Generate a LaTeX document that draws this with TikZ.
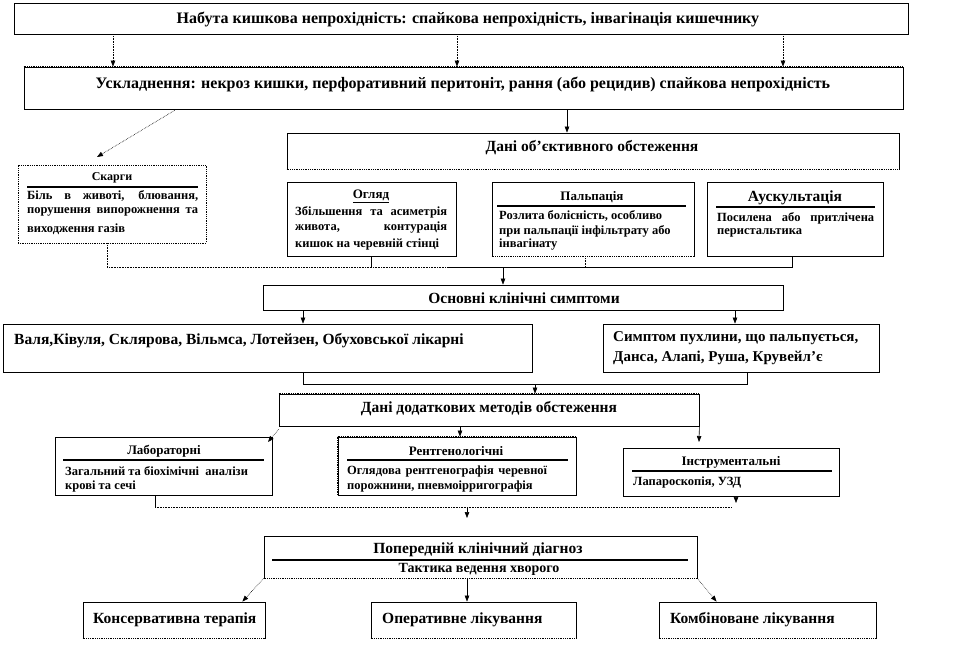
\documentclass[tikz,border=0pt]{standalone}
\usepackage{fontspec}
\setmainfont{Liberation Serif}
\usetikzlibrary{arrows.meta,fit,calc}
\newcommand\jline[2]{\makebox[#1][s]{#2}}
\newcommand\dotedge[2]{\draw[white,line width=1.4pt] #1 -- #2; \draw[line width=0.8pt, densely dotted] #1 -- #2;}
\tikzset{
 box/.style={draw, line width=0.8pt, fill=white, inner sep=0pt},
 dbox/.style={draw, densely dotted, line width=0.8pt, fill=white, inner sep=0pt},
 con/.style={line width=0.6pt},
 dcon/.style={line width=0.6pt, densely dotted},
 arr/.style={-{Triangle[length=6pt,width=4.5pt]}},
 huge/.style={font=\fontsize{16}{18}\selectfont\bfseries, inner sep=0pt},
 big/.style={font=\fontsize{15.5}{18}\selectfont\bfseries, inner sep=0pt},
 bigw/.style={big, anchor=west},
 small/.style={font=\fontsize{12.5}{15}\selectfont\bfseries, inner sep=0pt, anchor=west},
 ttl/.style={font=\fontsize{13}{15}\selectfont\bfseries, inner sep=0pt},
 rule/.style={line width=1.6pt},
}
\begin{document}
\begin{tikzpicture}[x=1pt,y=-1pt]
\fill[white] (0,0) rectangle (959,651);
\path[use as bounding box] (0,0) rectangle (959,651);

% column helper coordinates
\foreach \xx in {107,113,155,303,371,448,457,460,467,503,535,567,585,732,735,736,747,783,792}
  {\coordinate (c\xx) at (\xx,0);}
\coordinate (j1) at (0,267);
\coordinate (j2) at (0,384);
\coordinate (j3) at (0,507);

% ---------- boxes ----------
\node[box, fit={(14,3)(908,34)}] (B1) {};
\node[box, fit={(24,67)(903,109)}] (B2) {};
\node[box, fit={(287,133)(899,169)}] (DO) {};
\node[dbox, fit={(18,165)(206,243)}] (SK) {};
\node[box, fit={(287,182)(456,256)}] (OG) {};
\node[box, fit={(492,182)(694,256)}] (PA) {};
\node[box, fit={(707,182)(883,256)}] (AU) {};
\node[box, fit={(263,285)(783,310)}] (OS) {};
\node[box, fit={(3,324)(532,372)}] (VA) {};
\node[box, fit={(603,324)(879,372)}] (SY) {};
\node[box, fit={(279,394)(699,426)}] (DD) {};
\node[box, fit={(55,437)(272,495)}] (LA) {};
\node[box, fit={(338,437)(576,495)}] (RE) {};
\node[box, fit={(623,448)(839,496)}] (IN) {};
\node[box, fit={(264,536)(697,578)}] (PD) {};
\node[box, fit={(83,602)(265,638)}] (KO) {};
\node[box, fit={(371,602)(576,638)}] (OP) {};
\node[box, fit={(659,602)(876,638)}] (KB) {};

% dotted edges
\dotedge{(B2.north west)}{(B2.north east)}
\dotedge{(DO.south west)}{(DO.south east)}
\dotedge{(PA.south west)}{(PA.south east)}
\dotedge{(DD.north west)}{(DD.north east)}
\dotedge{(RE.north west)}{(RE.north east)}
\dotedge{(RE.north west)}{(RE.south west)}
\dotedge{(PD.south west)}{(PD.south east)}
\dotedge{(KO.south west)}{(KO.south east)}
\dotedge{(OP.south west)}{(OP.south east)}
\dotedge{(KB.south west)}{(KB.south east)}

% ---------- texts ----------
\node[huge] (t1) at (468,19) {Набута кишкова непрохідність: спайкова непрохідність, інвагінація кишечнику};
\node[huge] (t2) at (463,84) {Ускладнення: некроз кишки, перфоративний перитоніт, рання (або рецидив) спайкова непрохідність};
\node[big] (tDO) at (592,148) {Дані об'єктивного обстеження};

\node[ttl, font=\fontsize{12}{14}\selectfont\bfseries] (tSK) at (112,178) {Скарги};
\draw[rule] (27,187) -- (198,187);
\node[small] (sk1) at (27,196) {\jline{171pt}{Біль в животі, блювання,}};
\node[small] (sk2) at (27,212) {\jline{171pt}{порушення випорожнення та}};
\node[small] (sk3) at (27,229) {виходження газів};

\node[ttl] (tOG) at (371,196) {\underline{Огляд}};
\node[small] (og1) at (295,212) {\jline{152pt}{Збільшення та асиметрія}};
\node[small] (og2) at (295,228) {\jline{152pt}{живота, контурація}};
\node[small] (og3) at (295,244) {кишок на черевній стінці};

\node[ttl] (tPA) at (592,197) {Пальпація};
\draw[rule] (497,206) -- (686,206);
\node[small] (pa1) at (499,216) {Розлита болісність, особливо};
\node[small] (pa2) at (499,231) {при пальпації інфільтрату або};
\node[small] (pa3) at (499,245) {інвагінату};

\node[ttl, font=\fontsize{15.5}{17}\selectfont\bfseries] (tAU) at (795,198) {Аускультація};
\draw[rule] (716,207) -- (875,207);
\node[small] (au1) at (717,218) {\jline{157pt}{Посилена або притлічена}};
\node[small] (au2) at (717,233) {перистальтика};

\node[big] (tOS) at (524,298) {Основні клінічні симптоми};
\node[bigw] (tVA) at (14,341) {Валя,Ківуля, Склярова, Вільмса, Лотейзен, Обуховської лікарні};
\node[bigw, font=\fontsize{15}{17}\selectfont\bfseries] (sy1) at (613,338) {Симптом пухлини, що пальпується,};
\node[bigw, font=\fontsize{15}{17}\selectfont\bfseries] (sy2) at (613,358) {Данса, Алапі, Руша, Крувейл'є};

\node[big] (tDD) at (489,409) {Дані додаткових методів обстеження};

\node[ttl] (tLA) at (164,451) {Лабораторні};
\draw[rule] (63,460) -- (264,460);
\node[small] (la1) at (65,471) {Загальний та біохімічні \ аналізи};
\node[small] (la2) at (65,486) {крові та сечі};

\node[ttl] (tRE) at (456,451) {Рентгенологічні};
\draw[rule] (347,460) -- (568,460);
\node[small] (re1) at (347,471) {\jline{200pt}{Оглядова рентгенографія черевної}};
\node[small] (re2) at (347,486) {порожнини, пневмоірригографія};

\node[ttl] (tIN) at (731,462) {Інструментальні};
\draw[rule] (632,471) -- (832,471);
\node[small] (in1) at (633,482) {Лапароскопія, УЗД};

\node[big] (tPD) at (478,550) {Попередній клінічний діагноз};
\draw[line width=2pt] (272,560) -- (688,560);
\node[ttl, font=\fontsize{14}{16}\selectfont\bfseries] (tPD2) at (479,569) {Тактика ведення хворого};

\node[bigw] (tKO) at (93,620) {Консервативна терапія};
\node[bigw] (tOP) at (382,620) {Оперативне лікування};
\node[bigw] (tKB) at (670,620) {Комбіноване лікування};

% ---------- connectors ----------
\draw[dcon,arr] (B1.south -| c113) -- (B2.north -| c113);
\draw[dcon,arr] (B1.south -| c457) -- (B2.north -| c457);
\draw[dcon,arr] (B1.south -| c783) -- (B2.north -| c783);

\coordinate (aSK) at (97,157);
\draw[dcon,arr] ($(B2.south west)+(151,1)$) -- (aSK);
\draw[con,arr] (B2.south -| c567) -- (DO.north -| c567);

\draw[dcon] (SK.south -| c107) -- (j1 -| c107) -- (j1 -| c448);
\draw[con] (j1 -| c448) -- (j1 -| c792) -- (AU.south -| c792);
\draw[con] (OG.south -| c371) -- (j1 -| c371);
\draw[dcon] (PA.south -| c585) -- (j1 -| c585);
\draw[con,arr] (j1 -| c503) -- (OS.north -| c503);

\draw[con,arr] (OS.south -| c303) -- (VA.north -| c303);
\draw[con,arr] (OS.south -| c735) -- (SY.north -| c735);

\draw[con] (VA.south -| c303) -- (j2 -| c303) -- (j2 -| c747) -- (SY.south -| c747);
\draw[con,arr] (j2 -| c535) -- (DD.north -| c535);

\coordinate (aLA) at (268,442);
\coordinate (aIN) at (699,442);
\draw[dcon,arr] ($(DD.south west)+(0,3)$) -- (aLA);
\draw[con,arr] (DD.south -| c460) -- (RE.north -| c460);
\draw[con,arr] (DD.south east) -- (aIN);

\coordinate (aIN2) at (736,503);
\coordinate (aPD) at (467,518);
\draw[con] (LA.south -| c155) -- (j3 -| c155);
\draw[dcon] (j3 -| c155) -- (j3 -| c732);
\draw[con,arr] (IN.south -| c736) -- (aIN2);
\draw[con,arr] (j3 -| c467) -- (aPD);

\draw[dcon,arr] (PD.south west) -- ($(KO.north east)+(-23,0)$);
\draw[con,arr] (PD.south -| c467) -- (OP.north -| c467);
\draw[dcon,arr] (PD.south east) -- ($(KB.north west)+(58,0)$);
\end{tikzpicture}
\end{document}
